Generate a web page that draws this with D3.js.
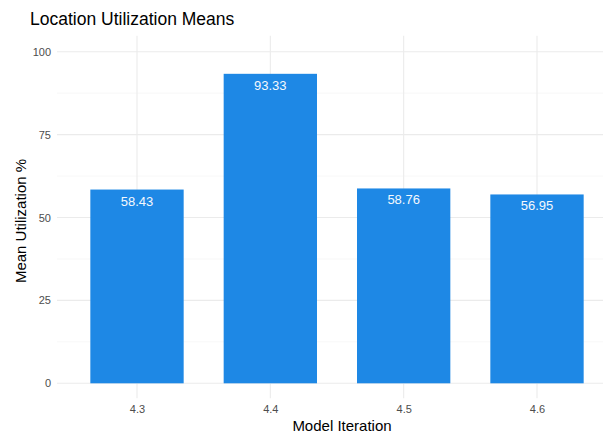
<!DOCTYPE html>
<html>
<head>
<meta charset="utf-8">
<script src="https://cdn.jsdelivr.net/npm/d3@7"></script>
<style>
  body { margin: 0; background: #fff; }
  text { font-family: "Liberation Sans", Arial, sans-serif; }
</style>
</head>
<body>
<svg id="chart" width="603" height="434"></svg>
<script>
// chart data
const iterations = ["4.3", "4.4", "4.5", "4.6"];
const meanUtil = [58.43, 93.33, 58.76, 56.95];
const yTicks = [0, 25, 50, 75, 100];
const yMinor = [12.5, 37.5, 62.5, 87.5];

let margin = {top: 36, left: 57, bottom: 383, right: 617};

let svg = d3.select("#chart");

// x band scale: 0.6 units padding each side like ggplot discrete
let step = (margin.right - margin.left) / (iterations.length - 1 + 1.2);
let x = d3.scalePoint()
    .domain(iterations)
    .range([margin.left + 0.6 * step, margin.right - 0.6 * step]);

let y = d3.scaleLinear()
    .domain([0, 100])
    .range([383.3, 51.7]);

let panelTop = y(100) - 16, panelBottom = y(0) + 15;

// minor grid
svg.append("g").selectAll("line")
    .data(yMinor).join("line")
    .attr("x1", margin.left).attr("x2", margin.right)
    .attr("y1", d => y(d)).attr("y2", d => y(d))
    .attr("stroke", "#f2f2f2").attr("stroke-width", 0.6);

// major grid
svg.append("g").selectAll("line")
    .data(yTicks).join("line")
    .attr("x1", margin.left).attr("x2", margin.right)
    .attr("y1", d => y(d)).attr("y2", d => y(d))
    .attr("stroke", "#ebebeb").attr("stroke-width", 1.1);

svg.append("g").selectAll("line")
    .data(iterations).join("line")
    .attr("x1", d => x(d)).attr("x2", d => x(d))
    .attr("y1", panelTop).attr("y2", panelBottom)
    .attr("stroke", "#ebebeb").attr("stroke-width", 1.1);

// bars
let barW = 0.7 * step;
svg.append("g").selectAll("rect")
    .data(iterations).join("rect")
    .attr("x", d => x(d) - barW / 2)
    .attr("width", barW)
    .attr("y", (d, i) => y(meanUtil[i]))
    .attr("height", (d, i) => y(0) - y(meanUtil[i]))
    .attr("fill", "#1E88E5");

// value labels
svg.append("g").selectAll("text")
    .data(iterations).join("text")
    .attr("x", d => x(d))
    .attr("y", (d, i) => y(meanUtil[i]) + 16)
    .attr("text-anchor", "middle")
    .attr("font-size", 13)
    .attr("fill", "#f4f8fd")
    .text((d, i) => meanUtil[i].toFixed(2));

// axes (ticks text only)
let yAxis = svg.append("g")
    .attr("transform", "translate(" + (margin.left - 6) + ",0)")
    .style("color", "#4d4d4d")
    .call(d3.axisLeft(y).tickValues(yTicks).tickSize(0).tickPadding(0));
yAxis.select(".domain").remove();
yAxis.selectAll("text").attr("font-size", 11).attr("fill", "#4d4d4d")
    .style("font-family", "Liberation Sans, Arial, sans-serif");

let xAxis = svg.append("g")
    .attr("transform", "translate(0," + (panelBottom + 2) + ")")
    .style("color", "#4d4d4d")
    .call(d3.axisBottom(x).tickSize(0).tickPadding(5));
xAxis.select(".domain").remove();
xAxis.selectAll("text").attr("font-size", 11).attr("fill", "#4d4d4d")
    .style("font-family", "Liberation Sans, Arial, sans-serif");

// titles
svg.append("text")
    .attr("x", 30).attr("y", 25)
    .attr("font-size", 17.5)
    .attr("fill", "#000")
    .text("Location Utilization Means");

svg.append("text")
    .attr("x", 342).attr("y", 431)
    .attr("text-anchor", "middle")
    .attr("font-size", 15)
    .text("Model Iteration");

svg.append("text")
    .attr("transform", "translate(26,221) rotate(-90)")
    .attr("text-anchor", "middle")
    .attr("font-size", 15)
    .text("Mean Utilization %");
</script>
</body>
</html>
